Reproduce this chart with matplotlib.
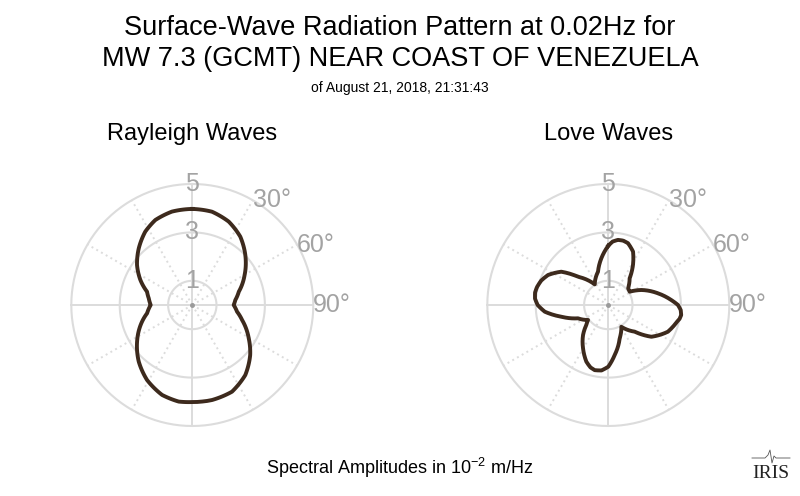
import numpy as np
import matplotlib
matplotlib.use("Agg")
import matplotlib.pyplot as plt

plt.rcParams['font.family'] = ['Liberation Sans', 'DejaVu Sans']
plt.rcParams['mathtext.fontset'] = 'custom'
plt.rcParams['mathtext.rm'] = 'Liberation Sans'
plt.rcParams['mathtext.it'] = 'Liberation Sans:italic'

# azimuth (deg, clockwise from north) and spectral amplitude (1e-2 m/Hz)
rayleigh_az = [0, 11.9, 23.6, 35.1, 46.7, 60.2, 74, 83.4, 90, 98.5, 106.8, 120.6, 130.8,
               142.9, 155.4, 168.3, 180, 188, 198.6, 211.1, 223.4, 236.4, 251.6, 259.6,
               270, 278.7, 286.4, 295.7, 305.9, 316.6, 327.3, 336.5, 347.7, 360]
rayleigh_amp = [3.97, 3.94, 3.76, 3.45, 3.01, 2.49, 2.0, 1.79, 1.71, 1.87, 2.15, 2.71, 3.16,
                3.63, 3.94, 4.01, 4.01, 4.03, 3.92, 3.62, 3.22, 2.74, 2.19, 1.9,
                1.72, 1.82, 1.95, 2.38, 2.82, 3.22, 3.60, 3.83, 3.95, 3.97]

love_az = [0, 4, 8.5, 13, 17.7, 24.9, 31.7, 38.7, 49.7, 58.1, 65.6, 76.8, 85.5, 90, 94,
           97.9, 101, 103.8, 114.1, 126.4, 135.3, 149.1, 161.1, 172.7, 180, 186, 191.8,
           196, 201.2, 210.3, 220.1, 227.7, 233.5, 246.3, 256, 264, 270, 275, 279.7, 284,
           290, 296.5, 305.3, 313, 326.7, 342.8, 351.5, 360]
love_amp = [2.45, 2.63, 2.72, 2.73, 2.68, 2.43, 1.94, 1.41, 1.07, 1.04, 1.5, 2.11, 2.61,
            2.88, 3.0, 3.04, 3.0, 2.92, 2.70, 2.21, 1.55, 1.05, 1.45, 2.08, 2.55, 2.72,
            2.75, 2.68, 2.51, 2.07, 1.62, 1.23, 1.04, 1.37, 2.0, 2.64, 2.92, 3.04, 3.07,
            3.04, 2.95, 2.78, 2.38, 1.71, 1.02, 1.44, 1.95, 2.45]

ring_values = [1, 3, 5]
angle_labels = [30, 60, 90]

title_lines = ["Surface-Wave Radiation Pattern at 0.02Hz for",
               "MW 7.3 (GCMT) NEAR COAST OF VENEZUELA"]
subtitle = "of August 21, 2018, 21:31:43"
panel_titles = ["Rayleigh Waves", "Love Waves"]
footer = "Spectral Amplitudes in $10^{-2}$ m/Hz"

GRID = '#dcdcdc'
LABEL = '#a3a3a3'
CURVE = '#3d2a1d'
W, H = 800, 496


def px(x, y):
    return x / W, 1 - y / H


def polar_panel(fig, cx, az, amp, name):
    R = 121
    ax = fig.add_axes([(cx - R) / W, (H - 305 - R) / H, 2 * R / W, 2 * R / H],
                      projection='polar')
    ax.set_theta_zero_location('N')
    ax.set_theta_direction(-1)
    ax.set_ylim(0, 5)
    ax.grid(False)
    ax.set_xticks([])
    ax.set_yticks([])
    ax.spines['polar'].set_visible(False)
    ax.patch.set_alpha(0)

    t = np.linspace(0, 2 * np.pi, 361)
    for r in ring_values:
        ax.plot(t, np.full_like(t, r), color=GRID, lw=1.5, clip_on=False, zorder=1)
    for a in range(0, 360, 30):
        ls = '-' if a % 90 == 0 else (0, (1, 1.8))
        ax.plot([np.radians(a)] * 2, [0, 5], color=GRID, lw=1.4, ls=ls,
                clip_on=False, zorder=1)
    ax.plot([0], [0], 'o', color='#9a9a9a', ms=2.5, zorder=2)

    for r in ring_values:
        ax.text(0, r, str(r), ha='center', va='center', color=LABEL,
                fontsize=18, zorder=3)
    for a in angle_labels:
        ax.text(np.radians(a), 5, f"{a}\u00b0", ha='left', va='center',
                color=LABEL, fontsize=18, zorder=3)

    ln, = ax.plot(np.radians(az), amp, color=CURVE, lw=2.8,
                  solid_joinstyle='round', zorder=4, clip_on=False)
    # let the polar transform follow the angle between the read points
    ln.get_path()._interpolation_steps = 16
    ln.recache(always=True)
    fig.text(*px(cx, 140), name, ha='center', va='baseline', fontsize=17)
    return ax


fig = plt.figure(figsize=(8, 4.96), dpi=100)

fig.text(*px(400, 35), title_lines[0], ha='center', va='baseline', fontsize=19.5)
fig.text(*px(400, 66), title_lines[1], ha='center', va='baseline', fontsize=19.5)
fig.text(*px(400, 92), subtitle, ha='center', va='baseline', fontsize=10)

polar_panel(fig, 192.3, rayleigh_az, rayleigh_amp, panel_titles[0])
polar_panel(fig, 608.3, love_az, love_amp, panel_titles[1])

fig.text(*px(400, 474), footer, ha='center', va='baseline', fontsize=13)

# IRIS logo, roughly
fig.text(*px(771, 478), "IRIS", ha='center', va='baseline', fontsize=14,
         family='Liberation Serif', color='#222222')
lx = np.array([752, 765, 768, 770, 772, 774, 776, 790])
ly = np.array([458, 458, 455, 450, 463, 456, 458, 458])
fig.add_artist(plt.Line2D(lx / W, 1 - ly / H, color='#555555', lw=0.6))

fig.savefig('out.png', dpi=100)
